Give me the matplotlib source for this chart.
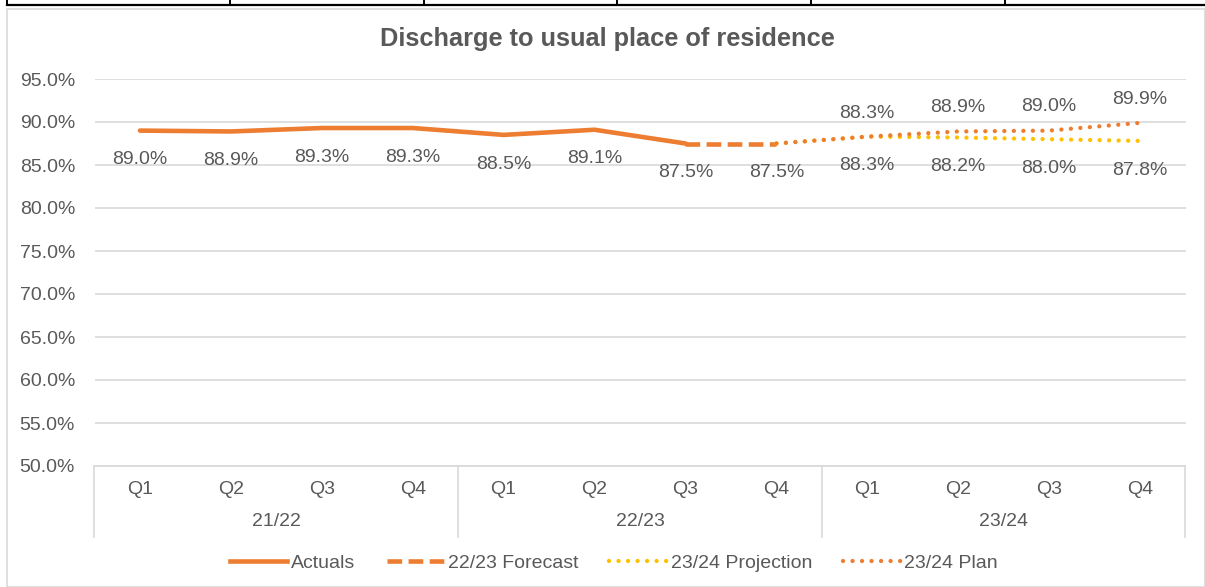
import matplotlib
matplotlib.use("Agg")
import matplotlib.pyplot as plt
from matplotlib.lines import Line2D
from matplotlib.patches import Rectangle
import matplotlib.transforms as mtransforms

plt.rcParams['font.family'] = ['Liberation Sans', 'DejaVu Sans']

# ---- data ----
title = "Discharge to usual place of residence"
quarters = ["Q1", "Q2", "Q3", "Q4"] * 3
years = ["21/22", "22/23", "23/24"]
actuals = [89.0, 88.9, 89.3, 89.3, 88.5, 89.1, 87.5]            # idx 0..6
forecast = [87.5, 87.5]                                          # idx 6..7
projection = [87.5, 88.3, 88.2, 88.0, 87.8]                      # idx 7..11
plan = [87.5, 88.3, 88.9, 89.0, 89.9]                            # idx 7..11
actual_labels = ["89.0%", "88.9%", "89.3%", "89.3%", "88.5%", "89.1%", "87.5%"]
forecast_label = "87.5%"
projection_labels = ["88.3%", "88.2%", "88.0%", "87.8%"]
plan_labels = ["88.3%", "88.9%", "89.0%", "89.9%"]
yticks = [50, 55, 60, 65, 70, 75, 80, 85, 90, 95]

ORANGE = "#ED7D31"
YELLOW = "#FFC000"
TXT = "#595959"
GRID = "#D9D9D9"
FS = 14

W, H = 1205, 587
fig = plt.figure(figsize=(W / 100, H / 100), dpi=100)

# figure decorations (table borders at top, chart frame)
fig.add_artist(Rectangle((7 / W, 0), (W - 7) / W, (H - 9) / H, transform=fig.transFigure,
                         fill=False, edgecolor=GRID, lw=1.2))
fig.add_artist(Line2D([7 / W, 1], [1 - 5 / H, 1 - 5 / H], transform=fig.transFigure, color="black", lw=1.6))
for xv in [7, 230, 424, 617, 811, 1005]:
    fig.add_artist(Line2D([xv / W, xv / W], [1 - 5 / H, 1], transform=fig.transFigure, color="black", lw=1.4))

left, right = 94.5, 1185.5
top, bottom = 79, 466
ax = fig.add_axes([left / W, 1 - bottom / H, (right - left) / W, (bottom - top) / H])
ax.set_xlim(-0.5, 11.5)
ax.set_ylim(50, 95)
ax.set_yticks(yticks)
ax.set_yticklabels([f"{v:.1f}%" for v in yticks], color=TXT, fontsize=FS)
ax.tick_params(axis='y', length=0, pad=14)
ax.set_xticks([])
for s in ["top", "right", "left"]:
    ax.spines[s].set_visible(False)
ax.spines["bottom"].set_color(GRID)
ax.spines["bottom"].set_linewidth(1.2)
ax.yaxis.grid(True, color=GRID, lw=1.2)
ax.set_axisbelow(True)

DOT = (0, (0.01, 2.2))
DASH = (0, (3.2, 1.4))

# lines
xa = list(range(0, 7))
xf = [6, 7]
xp = list(range(7, 12))
ax.plot(xa, actuals, color=ORANGE, lw=3.3, solid_capstyle="round", solid_joinstyle="round", zorder=3)
ax.plot(xf, forecast, color=ORANGE, lw=3.3, linestyle=DASH, dash_capstyle="butt", zorder=3)
ax.plot(xp, projection, color=YELLOW, lw=3.1, linestyle=DOT, dash_capstyle="round", zorder=3)
ax.plot(xp, plan, color=ORANGE, lw=3.1, linestyle=DOT, dash_capstyle="round", zorder=4)

# data labels
lab_kw = dict(color=TXT, fontsize=FS, ha="center", va="center", zorder=5)
for x, v, t in zip(xa, actuals, actual_labels):
    ax.annotate(t, (x, v), xytext=(0, -21), textcoords="offset points", **lab_kw)
ax.annotate(forecast_label, (7, forecast[1]), xytext=(0, -21), textcoords="offset points", **lab_kw)
for x, v, t in zip(xp[1:], projection[1:], projection_labels):
    ax.annotate(t, (x, v), xytext=(0, -21), textcoords="offset points", **lab_kw)
for x, v, t in zip(xp[1:], plan[1:], plan_labels):
    ax.annotate(t, (x, v), xytext=(0, 17), textcoords="offset points", **lab_kw)

# category axis (multi-level)
tr = mtransforms.blended_transform_factory(ax.transData, ax.transAxes)
h = bottom - top
for i, q in enumerate(quarters):
    ax.text(i, -(489 - bottom) / h, q, transform=tr, ha="center", va="center", color=TXT, fontsize=FS)
for g, yr in enumerate(years):
    ax.text(g * 4 + 1.5, -(521 - bottom) / h, yr, transform=tr, ha="center", va="center", color=TXT, fontsize=FS)
for xb in [-0.5, 3.5, 7.5, 11.5]:
    ax.add_line(Line2D([xb, xb], [0, -(537 - bottom) / h], transform=tr, color=GRID, lw=1.2, clip_on=False))

# title
fig.text(607 / W, 1 - 39 / H, title, ha="center", va="center", fontsize=18.3, fontweight="bold", color=TXT)

# legend
handles = [
    Line2D([], [], color=ORANGE, lw=3.3),
    Line2D([], [], color=ORANGE, lw=3.3, linestyle=DASH),
    Line2D([], [], color=YELLOW, lw=3.1, linestyle=DOT, dash_capstyle="round"),
    Line2D([], [], color=ORANGE, lw=3.1, linestyle=DOT, dash_capstyle="round"),
]
labels = ["Actuals", "22/23 Forecast", "23/24 Projection", "23/24 Plan"]
leg = fig.legend(handles, labels, loc="center", bbox_to_anchor=(614 / W, 1 - 563 / H), ncol=4,
                 frameon=False, fontsize=14, handlelength=2.95, handletextpad=0.2, columnspacing=1.6,
                 labelcolor=TXT)

fig.savefig("out.png", dpi=100)
